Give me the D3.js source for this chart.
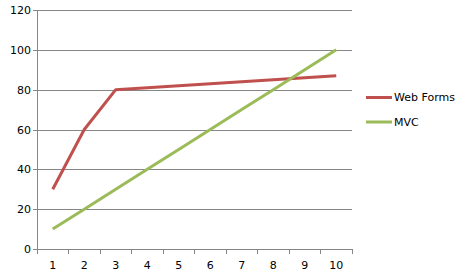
<!DOCTYPE html>
<html>
<head>
<meta charset="utf-8">
<script src="https://cdn.jsdelivr.net/npm/d3@7"></script>
<style>
  body { margin: 0; background: #fff; }
  text { font-family: "DejaVu Sans", Verdana, sans-serif; font-size: 11px; fill: #000; }
</style>
</head>
<body>
<svg class="chart"></svg>
<script>
var categories = ['1', '2', '3', '4', '5', '6', '7', '8', '9', '10'];
var webForms = [30, 60, 80, 81, 82, 83, 84, 85, 86, 87];
var mvc = [10, 20, 30, 40, 50, 60, 70, 80, 90, 100];
var yTicks = [0, 20, 40, 60, 80, 100, 120];
var seriesNames = ['Web Forms', 'MVC'];
var seriesColors = ['#c0504d', '#9bbb59'];

var chartWidth = 468;
var chartHeight = 279;
// note: "top" clashes with window.top, so use plot* names
var plotLeft = 37, plotRight = 352, plotTop = 10, plotBottom = 249;

var chart = d3.select('.chart').attr('width', chartWidth).attr('height', chartHeight);

var x = d3.scaleBand().domain(categories).range([plotLeft, plotRight]);
var y = d3.scaleLinear().domain([0, 120]).range([plotBottom, plotTop]);

// gridlines + y axis
var yAxis = d3.axisLeft(y).tickValues(yTicks).tickSize(-(plotRight - plotLeft)).tickPadding(6);
var gy = chart.append('g')
    .attr('transform', 'translate(' + plotLeft + ',0)')
    .call(yAxis);
gy.select('.domain').remove();
gy.selectAll('.tick line').attr('stroke', '#868686').attr('x1', -4).attr('shape-rendering', 'crispEdges');
gy.selectAll('.tick text').attr('font-size', null).attr('font-family', null);

chart.append('line')
    .attr('x1', plotLeft).attr('x2', plotLeft).attr('y1', plotTop).attr('y2', plotBottom)
    .attr('stroke', '#868686').attr('shape-rendering', 'crispEdges');

// x axis
var xAxis = d3.axisBottom(x).tickSize(0).tickPadding(12);
var gx = chart.append('g')
    .attr('transform', 'translate(0,' + plotBottom + ')')
    .call(xAxis);
gx.select('.domain').attr('stroke', '#868686').attr('shape-rendering', 'crispEdges');
gx.selectAll('.tick text').attr('font-size', null).attr('font-family', null);

var bounds = categories.map(c => x(c)).concat([plotRight]);
chart.append('g').selectAll('line')
    .data(bounds)
    .join('line')
    .attr('x1', d => d).attr('x2', d => d)
    .attr('y1', plotBottom).attr('y2', plotBottom + 5)
    .attr('stroke', '#868686').attr('shape-rendering', 'crispEdges');

// series
var line = d3.line()
    .x((d, i) => x(categories[i]) + x.bandwidth() / 2)
    .y(d => y(d));

[webForms, mvc].forEach(function(vals, i) {
  chart.append('path')
      .attr('d', line(vals))
      .attr('fill', 'none')
      .attr('stroke', seriesColors[i])
      .attr('stroke-width', 3)
      .attr('stroke-linejoin', 'round');
});

// legend
var legend = chart.append('g').selectAll('g')
    .data(seriesNames)
    .join('g')
    .attr('transform', (d, i) => 'translate(366,' + (97.5 + i * 24.5) + ')');
legend.append('line')
    .attr('x1', 0).attr('x2', 26)
    .attr('stroke', (d, i) => seriesColors[i])
    .attr('stroke-width', 3);
legend.append('text')
    .attr('x', 28)
    .attr('dy', '0.35em')
    .text(d => d);
</script>
</body>
</html>
